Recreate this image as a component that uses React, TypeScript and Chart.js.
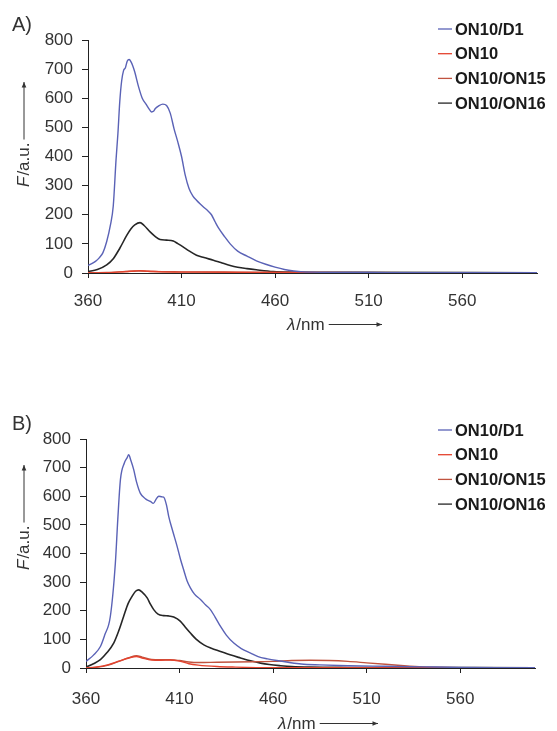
import React, { useEffect, useRef } from "react";
import { Chart, registerables } from "chart.js";

Chart.register(...registerables);

// ---------- shared labels / ticks ----------
const xTicks = [360, 410, 460, 510, 560];
const yTicks = [0, 100, 200, 300, 400, 500, 600, 700, 800];
const seriesNames = ["ON10/D1", "ON10", "ON10/ON15", "ON10/ON16"];
const seriesColors = ["#5a62b6", "#e4432e", "#c0533f", "#262626"];
const panelLabels = ["A)", "B)"];

// ---------- panel A ----------
const aD1Wave = [360, 362, 364, 366, 368, 370, 372, 373.5, 375, 376, 377, 378, 379, 380, 381, 382, 383, 384, 385, 387, 389, 391, 393, 394, 395, 396, 398, 400, 402, 404, 406, 408, 410, 412, 414, 416, 418, 420, 422, 424, 426, 428, 430, 433, 436, 440, 445, 450, 455, 460, 465, 470, 475, 480, 490, 500, 520, 560, 600];
const aD1Flu = [26, 32, 40, 52, 70, 108, 165, 230, 390, 480, 590, 660, 695, 705, 728, 733, 725, 710, 690, 640, 600, 580, 560, 553, 555, 565, 575, 580, 575, 548, 495, 450, 400, 335, 290, 265, 250, 237, 225, 214, 200, 175, 152, 125, 100, 75, 58, 42, 30, 20, 12, 7, 4, 3, 2, 2, 1, 1, 1];

const aON10Wave = [360, 370, 378, 385, 388, 392, 400, 420, 450, 500, 600];
const aON10Flu = [0, 1, 4, 7, 8, 6, 4, 3, 2, 1, 1];

const aON15Wave = [360, 370, 380, 387, 395, 410, 440, 480, 530, 600];
const aON15Flu = [1, 2, 5, 7, 5, 4, 3, 2, 1, 1];

const aON16Wave = [360, 365, 370, 373.5, 377, 380.7, 383, 385, 387.8, 390, 393.2, 396, 398.5, 402, 405.6, 408, 411, 414, 418, 422, 427, 431, 436, 440, 445, 450, 459, 470, 500, 600];
const aON16Flu = [5, 12, 28, 49, 85, 129, 152, 165, 173, 163, 141, 125, 115, 113, 110, 101, 89, 76, 61, 53, 44, 36, 26, 20, 15, 11, 5, 3, 2, 1];

// ---------- panel B ----------
const bD1Wave = [360, 364, 367.7, 370, 373, 375.7, 377, 378.4, 380.5, 382, 382.8, 384, 385.5, 387, 389, 392, 394.4, 396, 397.5, 398.9, 400.5, 401.5, 403, 404.2, 406.5, 408.7, 410.5, 412.2, 414, 415.8, 418, 421.2, 424, 426.5, 429, 431.9, 435, 439, 443, 448, 452, 457, 462, 468, 475, 485, 500, 520, 540, 560, 580, 600];
const bD1Flu = [23, 45, 75, 115, 180, 367, 520, 658, 716, 735, 745, 725, 693, 650, 611, 590, 582, 575, 590, 600, 598, 597, 570, 530, 475, 425, 380, 343, 305, 280, 258, 239, 220, 204, 178, 145, 115, 87, 68, 52, 40, 32, 26, 20, 14, 11, 8, 6, 4, 2, 1, 1];

const bON10Wave = [360, 365, 372, 378, 383, 387, 390, 395, 400, 405, 410, 415, 420, 430, 440, 460, 600];
const bON10Flu = [0, 3, 12, 25, 35, 40, 35, 28, 27, 28, 24, 15, 10, 5, 3, 1, 0];

const bON15Wave = [360, 365, 372, 378, 383, 387, 390, 395, 400, 405, 410, 415, 420, 430, 440, 450, 460, 470, 480, 490, 500, 510, 520, 530, 540, 550, 560, 600];
const bON15Flu = [0, 2, 10, 24, 36, 43, 38, 30, 29, 29, 26, 21, 19, 20, 21, 22, 23, 26, 27, 26, 23, 18, 13, 8, 4, 2, 1, 0];

const bON16Wave = [360, 364, 367.7, 371, 374.8, 377.5, 380.1, 382.5, 384.6, 386.5, 388.2, 390, 392.7, 394.5, 396.2, 398.5, 401.5, 404, 406.9, 410.5, 413, 415.8, 419, 423, 427, 431.9, 437, 442.6, 448, 453.3, 458, 464, 470, 480, 500, 600];
const bON16Flu = [3, 15, 29, 52, 87, 130, 180, 225, 250, 268, 273, 265, 245, 222, 204, 188, 183, 182, 178, 163, 143, 122, 100, 81, 69, 58, 46, 35, 25, 17, 12, 8, 5, 3, 2, 1];

const panelA = [
  [aD1Wave, aD1Flu],
  [aON10Wave, aON10Flu],
  [aON15Wave, aON15Flu],
  [aON16Wave, aON16Flu],
];
const panelB = [
  [bD1Wave, bD1Flu],
  [bON10Wave, bON10Flu],
  [bON15Wave, bON15Flu],
  [bON16Wave, bON16Flu],
];

const FONT = "'Liberation Sans', Arial, Helvetica, sans-serif";

type Layout = {
  h: number;
  top: number;
  bottom: number;
  left: number;
  right: number;
  xPad: number;
  label: string;
  labelY: number;
  legendY: number;
  yTitleBase: number;
  xTitleX: number;
  xTitleY: number;
  xArrowEnd: number;
};

function drawArrow(ctx: CanvasRenderingContext2D, x1: number, y1: number, x2: number, y2: number) {
  ctx.beginPath();
  ctx.moveTo(x1, y1);
  ctx.lineTo(x2, y2);
  ctx.stroke();
  const ang = Math.atan2(y2 - y1, x2 - x1);
  const L = 6;
  ctx.beginPath();
  ctx.moveTo(x2, y2);
  ctx.lineTo(x2 - L * Math.cos(ang - 0.4), y2 - L * Math.sin(ang - 0.4));
  ctx.lineTo(x2 - L * Math.cos(ang + 0.4), y2 - L * Math.sin(ang + 0.4));
  ctx.closePath();
  ctx.fill();
}

function makeChart(canvas: HTMLCanvasElement, series: number[][][], lay: Layout) {
  const datasets = series.map(([w, f], i) => ({
    label: seriesNames[i],
    data: w.map((x, k) => ({ x, y: f[k] })),
    borderColor: seriesColors[i],
    backgroundColor: seriesColors[i],
    borderWidth: i === 3 ? 1.6 : 1.4,
    pointRadius: 0,
    fill: false,
    cubicInterpolationMode: "monotone" as const,
  }));

  const annot = {
    id: "annot",
    afterDraw(chart: any) {
      const ctx: CanvasRenderingContext2D = chart.ctx;
      ctx.save();
      // panel label
      ctx.fillStyle = "#333";
      ctx.font = `20px ${FONT}`;
      ctx.textBaseline = "alphabetic";
      ctx.textAlign = "left";
      ctx.fillText(lay.label, 12, lay.labelY);

      // legend
      ctx.font = `bold 16.5px ${FONT}`;
      ctx.textBaseline = "middle";
      seriesNames.forEach((n, i) => {
        const y = lay.legendY + i * 24.7;
        ctx.strokeStyle = seriesColors[i];
        ctx.lineWidth = 1.3;
        ctx.beginPath();
        ctx.moveTo(438, y);
        ctx.lineTo(452, y);
        ctx.stroke();
        ctx.fillStyle = "#1a1a1a";
        ctx.fillText(n, 455, y + 1);
      });

      // y title (rotated) F/a.u. with arrow
      ctx.fillStyle = "#333";
      ctx.strokeStyle = "#333";
      ctx.lineWidth = 1;
      ctx.save();
      ctx.translate(29, lay.yTitleBase);
      ctx.rotate(-Math.PI / 2);
      ctx.textBaseline = "alphabetic";
      ctx.font = `italic 17px ${FONT}`;
      ctx.fillText("F", 0, 0);
      let w = ctx.measureText("F").width + 1;
      ctx.font = `17px ${FONT}`;
      ctx.fillText("/a.u.", w, 0);
      w += ctx.measureText("/a.u.").width;
      drawArrow(ctx, w + 3, -5, 105, -5);
      ctx.restore();

      // x title λ/nm with arrow
      ctx.textBaseline = "alphabetic";
      ctx.font = `italic 17px ${FONT}`;
      ctx.fillText("λ", lay.xTitleX, lay.xTitleY);
      let xw = lay.xTitleX + ctx.measureText("λ").width + 1;
      ctx.font = `17px ${FONT}`;
      ctx.fillText("/nm", xw, lay.xTitleY);
      xw += ctx.measureText("/nm").width;
      drawArrow(ctx, xw + 4, lay.xTitleY - 5.5, lay.xArrowEnd, lay.xTitleY - 5.5);
      ctx.restore();
    },
  };

  return new Chart(canvas, {
    type: "line",
    data: { datasets },
    plugins: [annot],
    options: {
      animation: false,
      responsive: false,
      events: [],
      layout: { padding: { left: 0, right: 557 - lay.right, top: lay.top, bottom: 0 } },
      plugins: { legend: { display: false }, tooltip: { enabled: false } },
      scales: {
        x: {
          type: "linear",
          min: 360,
          max: 600,
          afterBuildTicks: (s: any) => {
            s.ticks = xTicks.map((v) => ({ value: v }));
          },
          afterFit: (s: any) => {
            s.height = lay.h - lay.bottom;
          },
          border: { display: true, color: "#222", width: 1 },
          grid: { drawOnChartArea: false, drawTicks: true, tickLength: 5, color: "#222" },
          ticks: {
            autoSkip: false,
            maxRotation: 0,
            padding: lay.xPad,
            color: "#333",
            font: { family: FONT, size: 17 },
          },
        },
        y: {
          type: "linear",
          min: 0,
          max: 800,
          afterBuildTicks: (s: any) => {
            s.ticks = yTicks.map((v) => ({ value: v }));
          },
          afterFit: (s: any) => {
            s.width = lay.left;
          },
          border: { display: true, color: "#222", width: 1 },
          grid: { drawOnChartArea: false, drawTicks: true, tickLength: 6, color: "#222" },
          ticks: {
            padding: 9,
            color: "#333",
            font: { family: FONT, size: 17 },
          },
        },
      },
    },
  } as any);
}

const layoutA: Layout = {
  h: 340, top: 40, bottom: 273, left: 88, right: 537, xPad: 13,
  label: panelLabels[0], labelY: 31, legendY: 29,
  yTitleBase: 187, xTitleX: 287, xTitleY: 330, xArrowEnd: 382,
};
const layoutB: Layout = {
  h: 371, top: 79, bottom: 308, left: 86, right: 535, xPad: 16,
  label: panelLabels[1], labelY: 70, legendY: 70,
  yTitleBase: 210, xTitleX: 278, xTitleY: 369, xArrowEnd: 378,
};

export default function App() {
  const refA = useRef<HTMLCanvasElement>(null);
  const refB = useRef<HTMLCanvasElement>(null);
  useEffect(() => {
    const ca = makeChart(refA.current!, panelA, layoutA);
    const cb = makeChart(refB.current!, panelB, layoutB);
    return () => {
      ca.destroy();
      cb.destroy();
    };
  }, []);
  return (
    <div style={{ position: "absolute", left: 0, top: 0, width: 557, height: 731, background: "#fff" }}>
      <canvas ref={refA} width={557} height={340} style={{ position: "absolute", left: 0, top: 0 }} />
      <canvas ref={refB} width={557} height={371} style={{ position: "absolute", left: 0, top: 360 }} />
    </div>
  );
}
